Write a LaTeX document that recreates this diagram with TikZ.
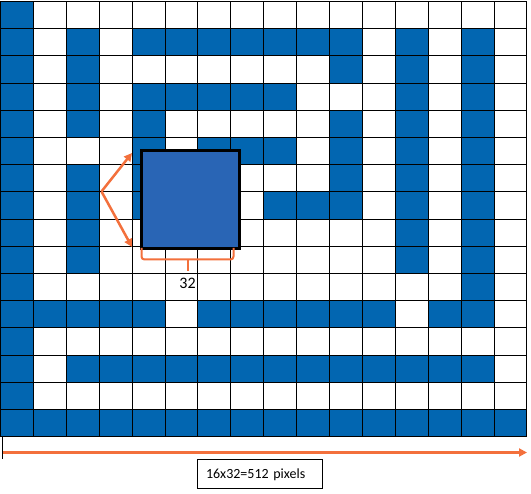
\documentclass[tikz,border=0pt]{standalone}
\usepackage{fontspec}
\setmainfont{Carlito}
\usepackage{tikz}
\usetikzlibrary{arrows.meta, calc}

\definecolor{cellblue}{RGB}{2, 102, 177}
\definecolor{blockblue}{RGB}{41, 101, 181}
\definecolor{markorange}{RGB}{243, 112, 60}

\newcommand{\cw}{32.9}
\newcommand{\ch}{27.2}

\tikzset{
	orange arrow/.style = {color = markorange, line width = 2.5pt, -{Triangle[length = 8pt, width = 8pt]}},
	orange line/.style = {color = markorange, line width = 2pt}
}

\begin{document}
\begin{tikzpicture}[x = 1pt, y = -1pt]
\useasboundingbox (0, 0) rectangle (531, 494);
\foreach \r/\cols in {0/{0}, 1/{0,2,4,5,6,7,8,9,10,12,14}, 2/{0,2,10,12,14},
	3/{0,2,4,5,6,7,8,12,14}, 4/{0,2,4,10,12,14}, 5/{0,4,6,7,8,10,12,14},
	6/{0,2,4,10,12,14}, 7/{0,2,4,8,9,10,12,14}, 8/{0,2,12,14}, 9/{0,2,12,14},
	10/{0,14}, 11/{0,1,2,3,4,6,7,8,9,10,11,13,14}, 12/{0}, 13/{0,2,3,...,14},
	14/{0}, 15/{0,...,15}}
	\foreach \c in \cols
		\fill[color = cellblue] ({0.5 + \c*\cw}, {1.5 + \r*\ch}) rectangle +(\cw, \ch);
\foreach \i in {0,...,16} {
	\draw[line width = 0.9pt] ({0.5 + \i*\cw}, 1.5) -- ++(0, {16*\ch});
	\draw[line width = 0.9pt] (0.5, {1.5 + \i*\ch}) -- ++({16*\cw}, 0);
}
\node[draw, line width = 3pt, fill = blockblue, minimum width = 98pt, minimum height = 98pt, inner sep = 0pt] (block) at (190.5, 199.5) {};
\coordinate (apex) at (101.5, 191.5);
\draw[orange arrow] (apex) -- ($(block.north west) + (-8, 4)$);
\draw[orange arrow] (apex) -- ($(block.south west) + (-8, -3)$);
\draw[orange line, rounded corners = 3pt]
	(141.5, 248) -- (141.5, 259.5) -- (233.5, 259.5) -- (233.5, 248);
\draw[orange line] (187.5, 259.5) -- (187.5, 271);
\node[font = \fontsize{16}{18}\selectfont] (size) at (187.5, 283) {32};
\coordinate (start) at (3, 452.5);
\coordinate (end) at (527, 452.5);
\draw[line width = 1pt] (2, 437) -- (2, 459);
\draw[orange arrow, line width = 3pt] (start) -- (end);
\node[draw, line width = 1pt, inner xsep = 9pt, text width = 107pt, minimum height = 29pt, align = left, font = \fontsize{14}{16}\selectfont] (total) at (259.5, 474.5) {16x32=512 pixels};
\end{tikzpicture}
\end{document}
